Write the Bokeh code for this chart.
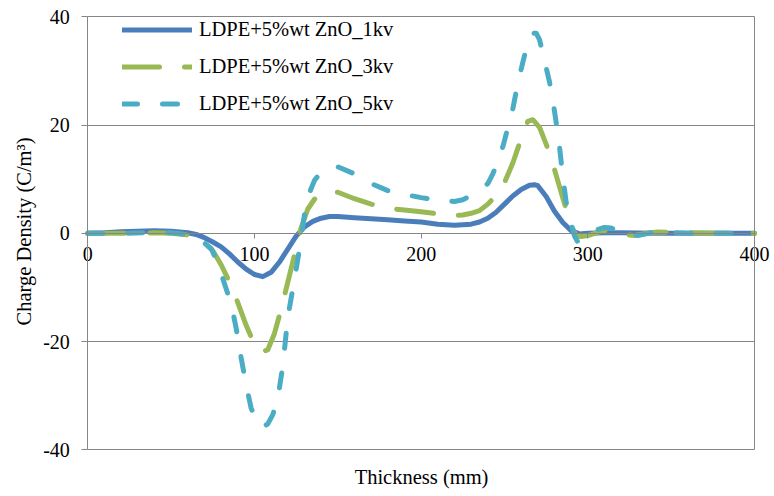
from bokeh.plotting import figure
from bokeh.models import Range1d, FixedTicker, LinearAxis, Legend, LegendItem, Title
from bokeh.embed import file_html
from bokeh.resources import INLINE

# ---- data ----
x_1kv = [0, 10, 20, 30, 40, 50, 60, 65, 70, 75, 80, 85, 90, 95, 100, 105, 110, 115, 120, 125,
         130, 135, 140, 145, 150, 160, 170, 180, 190, 200, 210, 220, 230, 235, 240, 245, 250,
         255, 260, 265, 268, 270, 275, 280, 285, 290, 295, 300, 310, 320, 340, 360, 380, 400]
y_1kv = [0, 0.1, 0.3, 0.4, 0.5, 0.4, 0.1, -0.2, -0.8, -1.6, -2.5, -3.8, -5.3, -6.6, -7.6, -8.0,
         -7.2, -5.3, -2.9, -0.5, 1.2, 2.2, 2.8, 3.1, 3.1, 2.9, 2.7, 2.5, 2.3, 2.1, 1.7, 1.5, 1.7,
         2.1, 2.8, 3.9, 5.4, 6.9, 8.1, 8.9, 9.0, 8.8, 6.8, 4.1, 2.0, 0.5, -0.1, 0.0, 0.1, 0.1,
         0.0, 0.0, 0.0, 0.0]

x_3kv = [0, 20, 40, 50, 60, 65, 70, 75, 80, 85, 90, 95, 100, 104, 108, 112, 116, 120, 124, 128,
         132, 136, 140, 145, 150, 155, 160, 170, 180, 190, 200, 210, 220, 225, 230, 235, 240,
         245, 250, 255, 260, 264, 267, 271, 275, 280, 285, 290, 293, 296, 300, 305, 310, 315,
         320, 328, 335, 342, 350, 360, 380, 400]
y_3kv = [0, 0, 0.1, 0.0, -0.3, -0.8, -1.8, -3.2, -5.8, -9.0, -12.8, -17.0, -20.5, -22.0, -21.5,
         -18.5, -14.0, -9.0, -4.0, 1.0, 4.5, 6.3, 7.3, 7.8, 7.6, 7.0, 6.4, 5.4, 4.6, 4.3, 4.0,
         3.6, 3.3, 3.4, 3.7, 4.2, 5.4, 7.0, 9.4, 13.0, 17.5, 20.7, 21.0, 19.6, 16.5, 11.8, 6.5,
         1.5, -0.5, -0.6, -0.4, 0.1, 0.5, 0.3, -0.2, -0.4, 0.0, 0.25, 0.2, 0.1, 0.0, 0.0]

x_5kv = [0, 20, 40, 50, 60, 65, 70, 74, 78, 82, 86, 89, 92, 95, 98, 102, 105, 108, 111, 114,
         117, 120, 122, 124, 126, 128, 130, 133, 136, 140, 145, 150, 160, 170, 180, 190, 200,
         210, 220, 225, 230, 235, 240, 243, 246, 249, 252, 255, 258, 261, 264, 267, 269, 271,
         274, 277, 279, 281, 283, 285, 287, 290, 292, 294, 296, 300, 305, 310, 314, 318, 322,
         330, 335, 340, 350, 360, 380, 400]
y_5kv = [0, 0, 0.2, 0.1, -0.2, -0.8, -1.8, -2.8, -5.5, -9.3, -13.0, -17.5, -23.0, -28.0, -32.3,
         -35.3, -35.8, -35.2, -33.5, -30.5, -24.5, -15.5, -12.0, -8.5, -4.8, -0.8, 3.5, 7.5,
         9.8, 11.3, 12.2, 12.3, 11.0, 9.2, 7.9, 7.2, 6.6, 6.1, 5.9, 6.2, 7.0, 8.0, 9.2, 11.0,
         13.2, 16.0, 19.5, 23.0, 27.8, 31.6, 35.3, 37.0, 37.0, 35.8, 32.0, 28.0, 24.6, 20.5,
         16.0, 10.5, 5.8, 1.8, -0.5, -1.6, -1.2, -0.2, 0.6, 1.1, 1.0, 0.4, -0.1, -0.4, -0.1,
         0.25, 0.15, 0.0, 0.0, 0.0]

labels = ["LDPE+5%wt ZnO_1kv", "LDPE+5%wt ZnO_3kv", "LDPE+5%wt ZnO_5kv"]
x_ticks = [0, 100, 200, 300, 400]
x_tick_labels = ["0", "100", "200", "300", "400"]
y_ticks = [-40, -20, 0, 20, 40]
y_tick_labels = ["-40", "-20", "0", "20", "40"]
x_title = "Thickness (mm)"
y_title = "Charge Density (C/m³)"

FONT = "Liberation Serif"
GRAY = "#868686"

# ---- layout: pixel box of the plotting area (0..400 x -40..40) ----
W, H = 774, 496
PX_L, PX_R, PX_T, PX_B = 87.3, 754.0, 16.4, 449.3
FRAME_L, FRAME_B = 36, 462          # frame is larger than the data box so end tick labels are not clipped
xmin, xmax = x_ticks[0], x_ticks[-1]
ymin, ymax = y_ticks[0], y_ticks[-1]
sx = (PX_R - PX_L) / (xmax - xmin)
sy = (PX_B - PX_T) / (ymax - ymin)
x_start = xmin - (PX_L - FRAME_L) / sx
x_end = xmax + (W - PX_R) / sx
y_end = ymax + PX_T / sy
y_start = ymin - (FRAME_B - PX_B) / sy

p = figure(width=W, height=H, output_backend="svg", toolbar_location=None,
           x_range=Range1d(x_start, x_end), y_range=Range1d(y_start, y_end),
           min_border_left=FRAME_L, min_border_top=0, min_border_right=0,
           min_border_bottom=H - FRAME_B)

p.background_fill_color = "white"
p.border_fill_color = "white"
p.outline_line_color = None

# grid lines only across the data box
p.xgrid.visible = False
p.ygrid.ticker = FixedTicker(ticks=y_ticks)
p.ygrid.bounds = (ymin, ymax)
p.ygrid.cross_bounds = (xmin, xmax)
p.ygrid.grid_line_color = GRAY
p.ygrid.grid_line_width = 1

# x axis at y = 0
xa = p.xaxis[0]
xa.fixed_location = 0
xa.bounds = (xmin, xmax)
xa.ticker = FixedTicker(ticks=x_ticks)
xa.major_label_overrides = dict(zip(x_ticks, x_tick_labels))
xa.axis_line_color = GRAY
xa.major_tick_line_color = GRAY
xa.major_tick_out = 5
xa.major_tick_in = 0
xa.minor_tick_line_color = None
xa.major_label_standoff = 9
xa.major_label_text_font = FONT
xa.major_label_text_font_size = "20px"
xa.major_label_text_color = "black"

# y axis at x = 0
ya = p.yaxis[0]
ya.fixed_location = 0
ya.bounds = (ymin, ymax)
ya.ticker = FixedTicker(ticks=y_ticks)
ya.major_label_overrides = dict(zip(y_ticks, y_tick_labels))
ya.axis_line_color = GRAY
ya.major_tick_line_color = GRAY
ya.major_tick_out = 6
ya.major_tick_in = 0
ya.minor_tick_line_color = None
ya.major_label_standoff = 12
ya.major_label_text_font = FONT
ya.major_label_text_font_size = "20px"
ya.major_label_text_color = "black"

# right border of the plot area
rb = LinearAxis(fixed_location=xmax, bounds=(ymin, ymax), ticker=FixedTicker(ticks=[]),
                axis_line_color=GRAY, major_tick_line_color=None, minor_tick_line_color=None)
p.add_layout(rb, "right")

# y title (label-only axis on the left)
yt = LinearAxis(ticker=FixedTicker(ticks=[]), axis_line_color=None,
                major_tick_line_color=None, minor_tick_line_color=None,
                axis_label=y_title, axis_label_text_font=FONT,
                axis_label_text_font_size="20.5px", axis_label_text_font_style="normal",
                axis_label_text_color="black", axis_label_standoff=2)
p.add_layout(yt, "left")

# x title below, left-aligned with an offset that centres it on the data box
TITLE_W = 133
p.add_layout(Title(text=x_title, align="left",
                   offset=(PX_L + PX_R) / 2 - TITLE_W / 2 - FRAME_L,
                   text_font=FONT, text_font_size="20.5px", text_font_style="normal",
                   text_color="black", standoff=2), "below")

r1 = p.line(x_1kv, y_1kv, line_color="#4A7EBB", line_width=5,
            line_cap="round", line_join="round")
r2 = p.line(x_3kv, y_3kv, line_color="#98B954", line_width=5, line_dash="37 25",
            line_cap="round", line_join="round")
r3 = p.line(x_5kv, y_5kv, line_color="#4BACC6", line_width=5, line_dash="15 25",
            line_cap="round", line_join="round")

legend = Legend(items=[LegendItem(label=labels[0], renderers=[r1]),
                       LegendItem(label=labels[1], renderers=[r2]),
                       LegendItem(label=labels[2], renderers=[r3])],
                location=(86, FRAME_B - 117), margin=0, padding=0, spacing=10,
                label_height=27, glyph_height=27, glyph_width=70, label_standoff=7,
                label_text_font=FONT, label_text_font_size="20.5px",
                label_text_color="black", border_line_color=None,
                background_fill_alpha=0)
p.add_layout(legend, "center")

open("out.html", "w").write(file_html(p, INLINE))
